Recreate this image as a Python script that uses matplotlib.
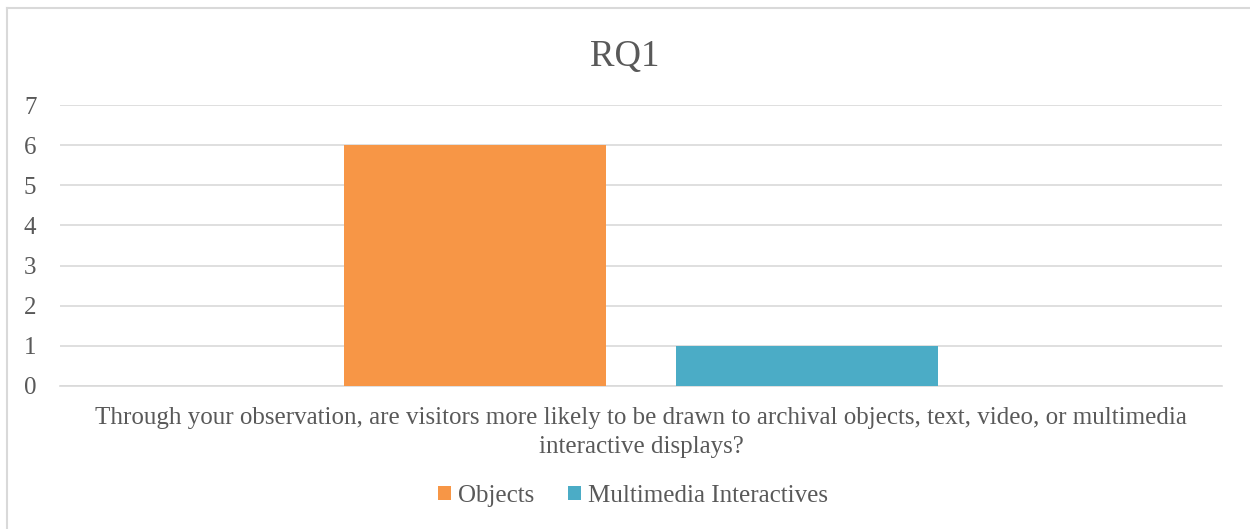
import matplotlib.pyplot as plt
import numpy as np
from matplotlib.lines import Line2D

categories = ["Through your observation, are visitors more likely to be drawn to archival objects, text, video, or multimedia\ninteractive displays?"]
series_names = ["Objects", "Multimedia Interactives"]
objects = [6]
multimedia = [1]
colors = ["#F79646", "#4BACC6"]

plt.rcParams['font.family'] = ['Liberation Serif', 'DejaVu Serif']
txt = "#595959"

fig = plt.figure(figsize=(12.5, 5.29), dpi=100)
ax = fig.add_axes([60 / 1250, 1 - 386 / 529, 1162 / 1250, 281 / 529])

x = np.arange(len(categories))
w = 0.2255
ax.bar(x - 0.1425, objects, w, color=colors[0], label=series_names[0], zorder=3)
ax.bar(x + 0.1425, multimedia, w, color=colors[1], label=series_names[1], zorder=3)

ax.set_xlim(-0.5, 0.5)
ax.set_ylim(0, 7)
ax.set_yticks(range(0, 8))
ax.yaxis.grid(True, color="#D9D9D9", linewidth=1.2, zorder=0)
ax.set_xticks(x)
ax.set_xticklabels(categories, fontsize=18, color=txt, linespacing=1.45)
ax.tick_params(axis='y', length=0, labelsize=18, labelcolor=txt, pad=17)
ax.tick_params(axis='x', length=0, pad=15)
for s in ["top", "right", "left"]:
    ax.spines[s].set_visible(False)
ax.spines["bottom"].set_color("#D9D9D9")
ax.spines["bottom"].set_linewidth(1.2)

fig.text(0.5, 1 - 57 / 529, "RQ1", ha="center", va="center", fontsize=26.5, color=txt)

leg = fig.legend(loc="center", bbox_to_anchor=(0.5 + 8 / 1250, 1 - 496 / 529), ncol=2, frameon=False,
                 fontsize=18, handlelength=0.5, handleheight=0.5, handletextpad=0.3, columnspacing=1.35)
for t in leg.get_texts():
    t.set_color(txt)

# chart border: only top and left edges visible
fig.add_artist(Line2D([6.5 / 1250, 1], [1 - 8 / 529, 1 - 8 / 529], transform=fig.transFigure,
                      color="#D9D9D9", linewidth=1.5))
fig.add_artist(Line2D([6.5 / 1250, 6.5 / 1250], [0, 1 - 8 / 529], transform=fig.transFigure,
                      color="#D9D9D9", linewidth=1.5))

fig.savefig("out.png", dpi=100, facecolor="white")
